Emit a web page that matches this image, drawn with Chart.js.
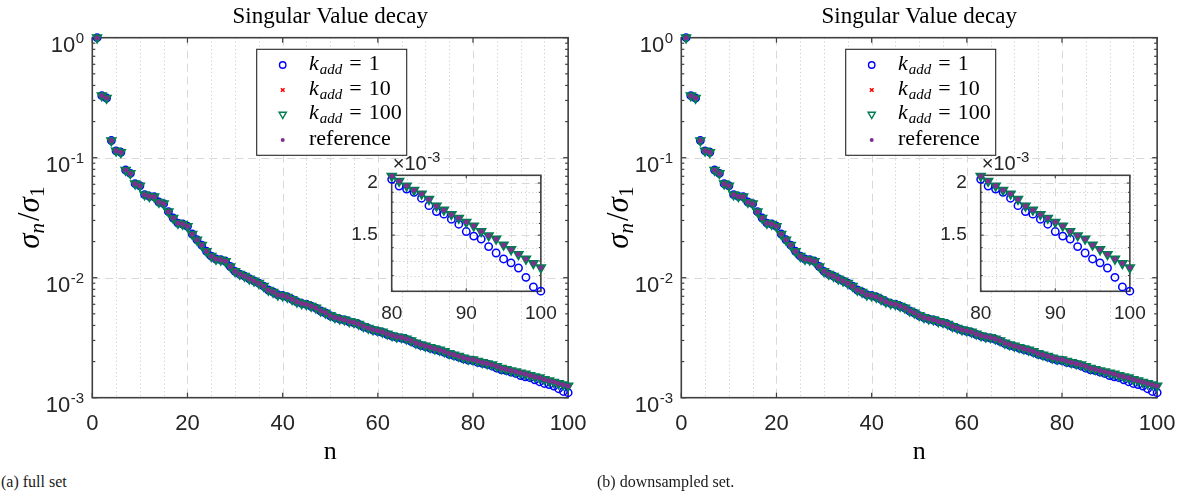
<!DOCTYPE html>
<html><head><meta charset="utf-8">
<script src="https://cdn.jsdelivr.net/npm/chart.js@4.4.0/dist/chart.umd.min.js"></script>
<style>
html,body{margin:0;padding:0;background:#fff;width:1184px;height:500px;overflow:hidden;position:relative;}
canvas{position:absolute;}
.cap{position:absolute;top:473px;font-family:'Liberation Serif',serif;font-size:16px;line-height:18px;color:#1a1a1a;white-space:nowrap;}
</style></head><body>
<canvas id="mainA" width="592" height="470" style="left:0px;top:0px"></canvas>
<canvas id="insetA" width="230" height="210" style="left:330px;top:140px"></canvas>
<canvas id="mainB" width="592" height="470" style="left:589px;top:0px"></canvas>
<canvas id="insetB" width="230" height="210" style="left:919px;top:140px"></canvas>
<div class="cap" style="left:1px">(a) full set</div>
<div class="cap" style="left:597px">(b) downsampled set.</div>
<script>
// ---------------- data ----------------
const nIndex = [1,2,3,4,5,6,7,8,9,10,11,12,13,14,15,16,17,18,19,20,
21,22,23,24,25,26,27,28,29,30,31,32,33,34,35,36,37,38,39,40,
41,42,43,44,45,46,47,48,49,50,51,52,53,54,55,56,57,58,59,60,
61,62,63,64,65,66,67,68,69,70,71,72,73,74,75,76,77,78,79,80,
81,82,83,84,85,86,87,88,89,90,91,92,93,94,95,96,97,98,99,100];

const reference = [1.0,0.329,0.314,0.139,0.114,0.111,0.0789,0.074,0.0607,0.0584,
0.0492,0.0476,0.0473,0.0427,0.0414,0.0355,0.0314,0.0285,0.028,0.0268,
0.0231,0.0207,0.0187,0.0166,0.0151,0.0143,0.0141,0.0137,0.0124,0.0113,
0.0107,0.0103,0.0098,0.0094,0.0090,0.0085,0.0079,0.0076,0.0072,0.0071,
0.0069,0.0066,0.0063,0.0061,0.0060,0.0058,0.0056,0.0053,0.0051,0.00485,
0.00467,0.00455,0.00447,0.00432,0.00424,0.00411,0.00393,0.00381,0.00369,0.00362,
0.00353,0.0034,0.0033,0.00322,0.00318,0.0031,0.00299,0.00286,0.00277,0.0027,
0.00263,0.00256,0.0025,0.00243,0.00234,0.00228,0.00222,0.00215,0.0021,0.002079,
0.002022,0.001969,0.001924,0.001885,0.001829,0.001762,0.001724,0.001682,0.001648,0.001612,
0.001579,0.001532,0.001497,0.001469,0.001421,0.001386,0.001349,0.001315,0.001284,0.001254];

const kadd100 = [1.0,0.329,0.314,0.139,0.114,0.111,0.0789,0.074,0.0607,0.0584,
0.0492,0.0476,0.0473,0.0427,0.0414,0.0355,0.0314,0.0285,0.028,0.0268,
0.0231,0.0207,0.0187,0.0166,0.0151,0.0143,0.0141,0.0137,0.0124,0.0113,
0.0107,0.0103,0.0098,0.0094,0.0090,0.0085,0.0079,0.0076,0.0072,0.0071,
0.0069,0.0066,0.0063,0.0061,0.0060,0.0058,0.0056,0.0053,0.0051,0.00485,
0.00467,0.00455,0.00447,0.00432,0.00424,0.00411,0.00393,0.00381,0.00369,0.00362,
0.00353,0.0034,0.0033,0.00322,0.00318,0.0031,0.00299,0.00286,0.00277,0.0027,
0.00263,0.00256,0.0025,0.00243,0.00234,0.00228,0.00222,0.00215,0.0021,0.002079,
0.002022,0.001969,0.001924,0.001885,0.001829,0.001762,0.001724,0.001682,0.001648,0.001612,
0.001579,0.001532,0.001497,0.001469,0.001421,0.001386,0.001349,0.001315,0.001284,0.001254];

const kadd10 = [1.0,0.329,0.314,0.139,0.114,0.111,0.0789,0.074,0.0607,0.0584,
0.0492,0.0476,0.0473,0.0427,0.0414,0.0355,0.0314,0.0285,0.028,0.0268,
0.0231,0.0207,0.0187,0.0166,0.0151,0.0143,0.0141,0.0137,0.0124,0.0113,
0.0107,0.0103,0.0098,0.0094,0.0090,0.0085,0.0079,0.0076,0.0072,0.0071,
0.0069,0.0066,0.0063,0.0061,0.0060,0.0058,0.0056,0.0053,0.0051,0.00485,
0.00467,0.00455,0.00447,0.00432,0.00424,0.00411,0.00393,0.00381,0.00369,0.00362,
0.00353,0.0034,0.0033,0.00322,0.00318,0.0031,0.00299,0.00286,0.00277,0.0027,
0.00263,0.00256,0.0025,0.00243,0.00234,0.00228,0.00222,0.00215,0.0021,0.002079,
0.002022,0.001969,0.001924,0.001885,0.001829,0.001762,0.001724,0.001682,0.001648,0.001612,
0.001579,0.001532,0.001497,0.001469,0.001421,0.001386,0.001349,0.001315,0.001284,0.001254];

const kadd1 = [1.0,0.329,0.314,0.139,0.114,0.111,0.0789,0.074,0.0607,0.0584,
0.0492,0.0476,0.0473,0.0427,0.0414,0.0355,0.0314,0.0285,0.028,0.0268,
0.0231,0.0207,0.0187,0.0166,0.0151,0.0143,0.0141,0.0137,0.0124,0.0113,
0.0107,0.0103,0.0098,0.0094,0.0090,0.0085,0.0079,0.0076,0.0072,0.0071,
0.0069,0.0066,0.0063,0.0061,0.0060,0.00578,0.00558,0.00528,0.00508,0.00482,
0.00464,0.00452,0.00444,0.00429,0.00421,0.00408,0.0039,0.00378,0.00366,0.00358,
0.00349,0.00336,0.00326,0.00318,0.00314,0.00306,0.00295,0.00282,0.00273,0.00266,
0.00259,0.00252,0.00246,0.00239,0.0023,0.00224,0.00218,0.00211,0.00206,0.002041,
0.001967,0.001935,0.0019,0.001839,0.001765,0.001708,0.001684,0.001638,0.001593,0.00153,
0.001492,0.001468,0.001408,0.001359,0.001315,0.001287,0.001251,0.001188,0.001127,0.001101];

const legendLabels = ['k_{add} = 1','k_{add} = 10','k_{add} = 100','reference'];
const panelTitles = ['Singular Value decay','Singular Value decay'];

const mainXTicks = [0,20,40,60,80,100];
const mainXTickLabels = ['0','20','40','60','80','100'];
const mainXMinorTicks = [5,10,15,25,30,35,45,50,55,65,70,75,85,90,95];
const mainYTicks = [0.001,0.01,0.1,1];
const mainYTickExps = ['-3','-2','-1','0'];
const logMinorMult = [2,3,4,5,6,7,8,9];

const insetXTicks = [80,90,100];
const insetXTickLabels = ['80','90','100'];
const insetXMinorTicks = [82,84,86,88,92,94,96,98];
const insetYTicks = [0.0015,0.002];
const insetYTickLabels = ['1.5','2'];
const insetYMinorTicks = [0.0011,0.0012,0.0013,0.0014,0.0016,0.0017,0.0018,0.0019];
const insetFirstN = 80;

// ---------------- style ----------------
const BLUE='#0000ff', RED='#ff0000', GREEN='#007d52', PURPLE='#7e2f8e';
const AXC='#404040', TXT='#262626';
const SANS="'Liberation Sans', Arial, sans-serif";
const SERIF="'Liberation Serif', 'Times New Roman', serif";

function pts(arr, from){
  const out=[];
  for(let i=0;i<arr.length;i++){ if(nIndex[i]>=from) out.push({x:nIndex[i], y:arr[i]}); }
  return out;
}
function makeDatasets(from){
  return [
    {label:legendLabels[3], data:pts(reference,from), pointStyle:'circle', pointRadius:2.5, pointBorderWidth:0,
     pointBackgroundColor:PURPLE, pointBorderColor:PURPLE, order:0, clip:false},
    {label:legendLabels[2], data:pts(kadd100,from), pointStyle:'triangle', pointRotation:180, pointRadius:4.6, pointBorderWidth:2.1,
     pointBackgroundColor:'rgba(0,0,0,0)', pointBorderColor:GREEN, order:1, clip:false},
    {label:legendLabels[1], data:pts(kadd10,from), pointStyle:'crossRot', pointRadius:3, pointBorderWidth:1.5,
     pointBackgroundColor:'rgba(0,0,0,0)', pointBorderColor:RED, order:2, clip:false},
    {label:legendLabels[0], data:pts(kadd1,from), pointStyle:'circle', pointRadius:3.7, pointBorderWidth:1.5,
     pointBackgroundColor:'rgba(0,0,0,0)', pointBorderColor:BLUE, order:3, clip:false}
  ];
}

function hline(ctx,x1,x2,y){ctx.beginPath();ctx.moveTo(x1,y);ctx.lineTo(x2,y);ctx.stroke();}
function vline(ctx,x,y1,y2){ctx.beginPath();ctx.moveTo(x,y1);ctx.lineTo(x,y2);ctx.stroke();}

function parseMath(str){
  const parts=[]; const re=/_\{([^}]*)\}/g; let last=0,m;
  while((m=re.exec(str))){ if(m.index>last) parts.push({t:str.slice(last,m.index),sub:false}); parts.push({t:m[1],sub:true}); last=re.lastIndex; }
  if(last<str.length) parts.push({t:str.slice(last),sub:false});
  return parts;
}
function drawLegendText(ctx, str, x, y){
  const parts=parseMath(str);
  let cx=x;
  const isMath = str.indexOf('_{')>=0;
  ctx.textAlign='left'; ctx.textBaseline='alphabetic'; ctx.fillStyle='#000';
  parts.forEach(p=>{
    if(p.sub){ ctx.font='italic 15px '+SERIF; ctx.fillText(p.t,cx,y+4); cx+=ctx.measureText(p.t).width; }
    else if(isMath){
      let t=p.t;
      if(t==='k'){ ctx.font='italic 22px '+SERIF; ctx.fillText(t,cx,y); cx+=ctx.measureText(t).width+1; }
      else {
        ctx.font='22px '+SERIF;
        const m=t.match(/^\s*=\s*(.*)$/);
        if(m){ cx+=7; ctx.fillText('=',cx,y); cx+=ctx.measureText('=').width+7; ctx.fillText(m[1],cx,y); cx+=ctx.measureText(m[1]).width; }
        else { ctx.fillText(t,cx,y); cx+=ctx.measureText(t).width; }
      }
    } else { ctx.font='22px '+SERIF; ctx.fillText(p.t,cx,y); cx+=ctx.measureText(p.t).width; }
  });
}

const mainDecor = {
  id:'mainDecor',
  beforeDatasetsDraw(chart){
    const {ctx, chartArea:a, scales:{x,y}} = chart;
    ctx.save();
    ctx.lineWidth=1;
    ctx.strokeStyle='#cfcfcf'; ctx.setLineDash([1.2,2.6]);
    mainXMinorTicks.forEach(v=>{const px=Math.round(x.getPixelForValue(v))+0.5; vline(ctx,px,a.top,a.bottom);});
    ctx.strokeStyle='#d9d9d9'; ctx.setLineDash([8,5]);
    mainXTicks.forEach(v=>{ if(v>x.min && v<x.max){const px=Math.round(x.getPixelForValue(v))+0.5; vline(ctx,px,a.top,a.bottom);} });
    mainYTicks.forEach(v=>{ if(v>y.min && v<y.max){const py=Math.round(y.getPixelForValue(v))+0.5; hline(ctx,a.left,a.right,py);} });
    ctx.setLineDash([]);
    ctx.strokeStyle=AXC; ctx.lineWidth=1.2;
    mainXTicks.forEach(v=>{const px=x.getPixelForValue(v); vline(ctx,px,a.bottom,a.bottom-5); vline(ctx,px,a.top,a.top+5);});
    mainYTicks.forEach(v=>{const py=y.getPixelForValue(v); hline(ctx,a.left,a.left+5,py); hline(ctx,a.right,a.right-5,py);});
    mainYTicks.forEach(d=>{ logMinorMult.forEach(m=>{ const v=d*m; if(v<y.max){ const py=y.getPixelForValue(v); hline(ctx,a.left,a.left+3,py); hline(ctx,a.right,a.right-3,py);} }); });
    ctx.lineWidth=1.6; ctx.strokeStyle=AXC;
    ctx.strokeRect(a.left,a.top,a.right-a.left,a.bottom-a.top);
    ctx.restore();
  },
  afterDatasetsDraw(chart){
    const {ctx, chartArea:a} = chart;
    ctx.save();
    const bx=a.left+164.4, by=a.top+11.6, bw=150, bh=106;
    ctx.fillStyle='#fff'; ctx.fillRect(bx,by,bw,bh);
    ctx.strokeStyle='#262626'; ctx.lineWidth=1.1; ctx.strokeRect(bx,by,bw,bh);
    const rows=[15.7,40.7,65,90.7];
    const styles=[
      {pointStyle:'circle',radius:3.2,borderWidth:1.4,stroke:BLUE,fill:'rgba(0,0,0,0)'},
      {pointStyle:'crossRot',radius:2.6,borderWidth:1.5,stroke:RED,fill:'rgba(0,0,0,0)'},
      {pointStyle:'triangle',rotation:180,radius:4.2,borderWidth:1.4,stroke:GREEN,fill:'rgba(0,0,0,0)'},
      {pointStyle:'circle',radius:2,borderWidth:0,stroke:PURPLE,fill:PURPLE}
    ];
    legendLabels.forEach((lab,i)=>{
      const yy=by+rows[i];
      const st=styles[i];
      ctx.strokeStyle=st.stroke; ctx.fillStyle=st.fill; ctx.lineWidth=st.borderWidth;
      Chart.helpers.drawPoint(ctx,{pointStyle:st.pointStyle,rotation:st.rotation||0,radius:st.radius,borderWidth:st.borderWidth},bx+26,yy);
      drawLegendText(ctx,lab,bx+52.3,yy+(i===3?5:4.5));
    });
    ctx.restore();
  },
  afterDraw(chart){
    const {ctx, chartArea:a, scales:{y}} = chart;
    ctx.save();
    ctx.fillStyle=TXT; ctx.textAlign='right'; ctx.textBaseline='alphabetic';
    mainYTicks.forEach((v,i)=>{
      const py=y.getPixelForValue(v);
      const rx=a.left-8.3;
      ctx.font='15px '+SANS; const e=mainYTickExps[i]; ctx.fillText(e,rx,py+5);
      const w=ctx.measureText(e).width;
      ctx.font='22px '+SANS; ctx.fillText('10',rx-w-0.5,py+14.3);
    });
    ctx.translate(30,(a.top+a.bottom)/2);
    ctx.rotate(-Math.PI/2);
    ctx.fillStyle='#000';
    const parts=[{t:'σ',f:'italic 31px '+SERIF,dy:0},{t:'n',f:'italic 21px '+SERIF,dy:5},{t:'/',f:'31px '+SERIF,dy:0,pre:2},{t:'σ',f:'italic 31px '+SERIF,dy:0},{t:'1',f:'21px '+SERIF,dy:5}];
    let tot=0; parts.forEach(p=>{ctx.font=p.f; p.w=ctx.measureText(p.t).width; tot+=p.w+(p.pre||0);});
    let cx=-tot/2; ctx.textAlign='left';
    parts.forEach(p=>{ctx.font=p.f; cx+=(p.pre||0); ctx.fillText(p.t,cx,9+p.dy); cx+=p.w;});
    ctx.restore();
  }
};

const insetDecor = {
  id:'insetDecor',
  beforeDraw(chart){
    const {ctx, chartArea:a} = chart;
    ctx.save(); ctx.fillStyle='#fff'; ctx.fillRect(a.left,a.top,a.right-a.left,a.bottom-a.top); ctx.restore();
  },
  beforeDatasetsDraw(chart){
    const {ctx, chartArea:a, scales:{x,y}} = chart;
    ctx.save(); ctx.lineWidth=1;
    ctx.strokeStyle='#cfcfcf'; ctx.setLineDash([1.2,2.6]);
    insetXMinorTicks.forEach(v=>{const px=Math.round(x.getPixelForValue(v))+0.5; vline(ctx,px,a.top,a.bottom);});
    insetYMinorTicks.forEach(v=>{const py=Math.round(y.getPixelForValue(v))+0.5; hline(ctx,a.left,a.right,py);});
    ctx.strokeStyle='#d9d9d9'; ctx.setLineDash([8,5]);
    insetXTicks.forEach(v=>{ if(v>x.min && v<x.max){const px=Math.round(x.getPixelForValue(v))+0.5; vline(ctx,px,a.top,a.bottom);} });
    insetYTicks.forEach(v=>{ if(v>y.min && v<y.max){const py=Math.round(y.getPixelForValue(v))+0.5; hline(ctx,a.left,a.right,py);} });
    ctx.setLineDash([]);
    ctx.strokeStyle=AXC; ctx.lineWidth=1.1;
    insetXTicks.forEach(v=>{const px=x.getPixelForValue(v); vline(ctx,px,a.bottom,a.bottom-3); vline(ctx,px,a.top,a.top+3);});
    insetYTicks.forEach(v=>{const py=y.getPixelForValue(v); hline(ctx,a.left,a.left+3,py); hline(ctx,a.right,a.right-3,py);});
    insetYMinorTicks.forEach(v=>{const py=y.getPixelForValue(v); hline(ctx,a.left,a.left+2,py); hline(ctx,a.right,a.right-2,py);});
    ctx.lineWidth=1.6; ctx.strokeRect(a.left,a.top,a.right-a.left,a.bottom-a.top);
    ctx.restore();
  },
  afterDraw(chart){
    const {ctx, chartArea:a} = chart;
    ctx.save(); ctx.fillStyle=TXT; ctx.textAlign='left'; ctx.textBaseline='alphabetic';
    ctx.font='20px '+SANS; ctx.fillText('×10',a.left+1,a.top-5);
    const w=ctx.measureText('×10').width;
    ctx.font='15px '+SANS; ctx.fillText('-3',a.left+1+w+0.5,a.top-13);
    ctx.restore();
  }
};

function makeMain(id, title){
  return new Chart(document.getElementById(id), {
    type:'scatter',
    data:{datasets:makeDatasets(0)},
    options:{
      responsive:false, animation:false, events:[],
      layout:{padding:{left:0,right:22,top:0,bottom:5}},
      plugins:{
        legend:{display:false}, tooltip:{enabled:false},
        title:{display:true, text:title, fullSize:false, color:'#000',
               font:{family:SERIF,size:23,weight:'normal',lineHeight:1.2}, padding:{top:3.4,bottom:6.7}}
      },
      scales:{
        x:{type:'linear', min:0, max:100,
           grid:{display:false}, border:{display:false},
           afterBuildTicks:(s)=>{s.ticks=mainXTicks.map(v=>({value:v}));},
           afterFit:(s)=>{s.height=67.3;},
           ticks:{autoSkip:false, maxRotation:0, color:TXT, padding:5.5, font:{family:SANS,size:22},
                  callback:(v,i)=>mainXTickLabels[i]},
           title:{display:true,text:'n',color:'#000',font:{family:SERIF,size:26,lineHeight:1},padding:{top:0,bottom:0}}},
        y:{type:'logarithmic', min:0.001, max:1,
           grid:{display:false}, border:{display:false},
           afterBuildTicks:(s)=>{s.ticks=mainYTicks.map(v=>({value:v}));},
           afterFit:(s)=>{s.width=92.3;},
           ticks:{display:false}}
      }
    },
    plugins:[mainDecor]
  });
}

function makeInset(id){
  return new Chart(document.getElementById(id), {
    type:'scatter',
    data:{datasets:makeDatasets(insetFirstN)},
    options:{
      responsive:false, animation:false, events:[],
      layout:{padding:{left:0,right:12.3,top:35.3,bottom:28.7}},
      plugins:{legend:{display:false}, tooltip:{enabled:false}, title:{display:false}},
      scales:{
        x:{type:'linear', min:80, max:100,
           grid:{display:false}, border:{display:false},
           afterBuildTicks:(s)=>{s.ticks=insetXTicks.map(v=>({value:v}));},
           afterFit:(s)=>{s.height=30;},
           ticks:{autoSkip:false,maxRotation:0,color:TXT,padding:3.3,font:{family:SANS,size:19},
                  callback:(v,i)=>insetXTickLabels[i]}},
        y:{type:'logarithmic', min:0.0011, max:0.002087,
           grid:{display:false}, border:{display:false},
           afterBuildTicks:(s)=>{s.ticks=insetYTicks.map(v=>({value:v}));},
           afterFit:(s)=>{s.width=61.7;},
           ticks:{autoSkip:false,color:TXT,padding:6,font:{family:SANS,size:19},
                  callback:(v,i)=>insetYTickLabels[i]}}
      }
    },
    plugins:[insetDecor]
  });
}

makeMain('mainA', panelTitles[0]);
makeInset('insetA');
makeMain('mainB', panelTitles[1]);
makeInset('insetB');
</script>
</body></html>
